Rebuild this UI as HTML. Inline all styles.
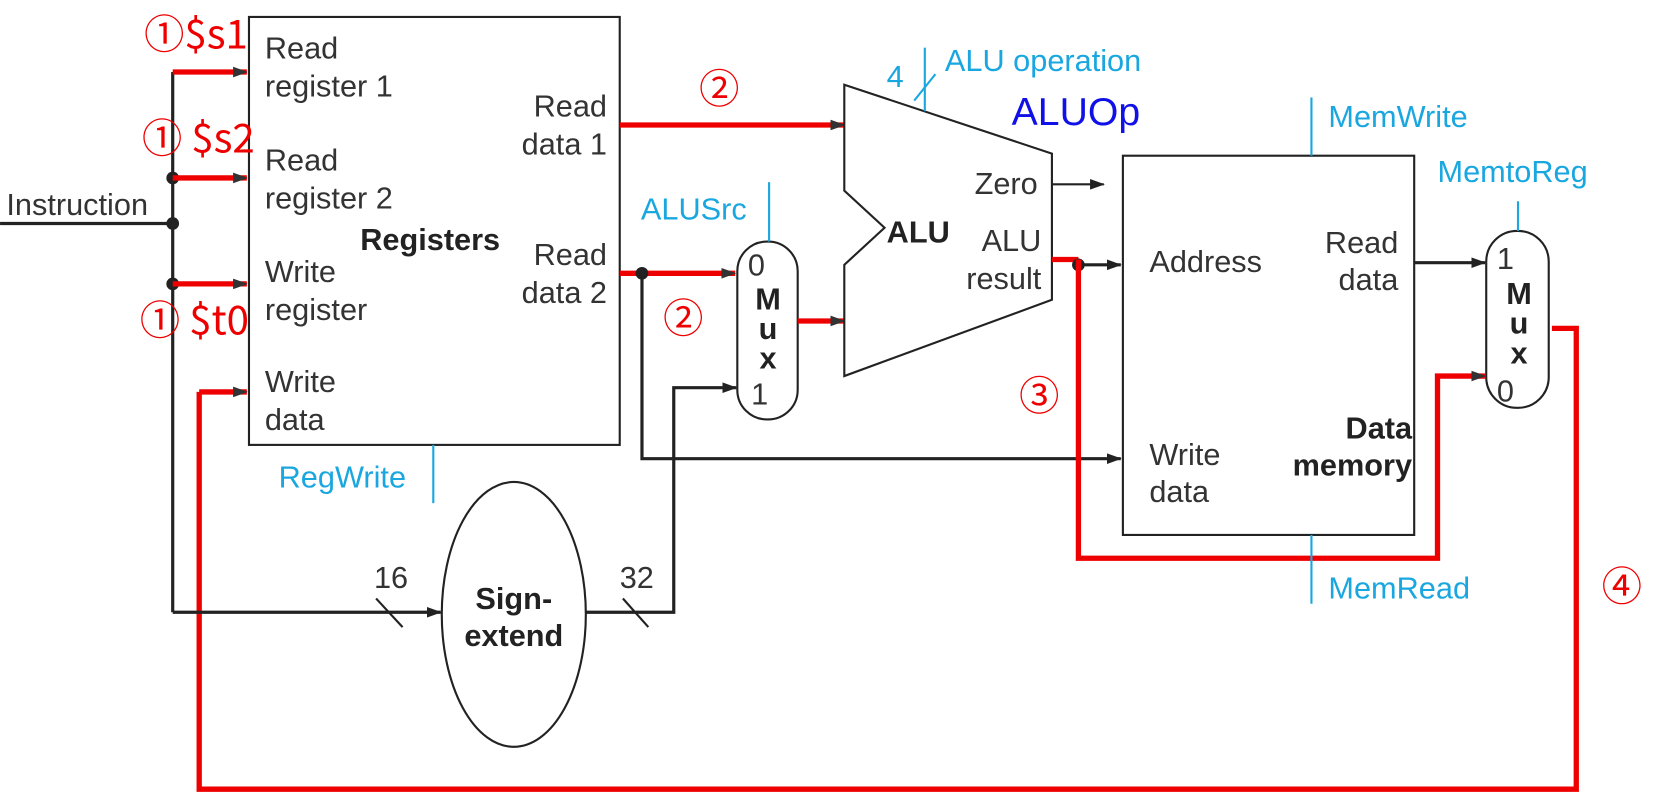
<!DOCTYPE html>
<html><head><meta charset="utf-8"><style>
html,body{margin:0;padding:0;background:#fff;}
svg{display:block;}
text{font-family:"Liberation Sans","Noto Sans CJK SC",sans-serif;}
.t{font-size:29px;fill:#333;}
.b{font-size:29px;font-weight:bold;fill:#222;}
.c{font-size:29px;fill:#1aa7e0;}
.r{font-size:38px;fill:#e00;font-family:"Noto Sans CJK SC","Liberation Sans",sans-serif;}
</style></head><body>
<svg width="1660" height="804" viewBox="0 0 1567 759" xmlns="http://www.w3.org/2000/svg">
<defs>
<marker id="ak" markerWidth="14" markerHeight="10" refX="13" refY="5" orient="auto" markerUnits="userSpaceOnUse"><path d="M0,0 L14,5 L0,10z" fill="#222"/></marker>
<marker id="ar" markerWidth="14" markerHeight="10" refX="13" refY="5" orient="auto" markerUnits="userSpaceOnUse"><path d="M0,0 L14,5 L0,10z" fill="#333"/></marker>
</defs>
<!-- Registers -->
<rect x="235" y="16" width="350" height="404" fill="none" stroke="#222" stroke-width="2"/>
<text class="t" x="250" y="55">Read</text><text class="t" x="250" y="91">register 1</text>
<text class="t" x="250" y="161">Read</text><text class="t" x="250" y="197">register 2</text>
<text class="t" x="250" y="266">Write</text><text class="t" x="250" y="302">register</text>
<text class="t" x="250" y="370">Write</text><text class="t" x="250" y="406">data</text>
<text class="b" x="340" y="236">Registers</text>
<text class="t" x="573" y="110" text-anchor="end">Read</text><text class="t" x="573" y="146" text-anchor="end">data 1</text>
<text class="t" x="573" y="250" text-anchor="end">Read</text><text class="t" x="573" y="286" text-anchor="end">data 2</text>
<text class="c" x="263" y="460">RegWrite</text>
<line x1="409" y1="420" x2="409" y2="475" stroke="#1aa7e0" stroke-width="2"/>
<!-- instruction bus -->
<line x1="0" y1="211" x2="163" y2="211" stroke="#222" stroke-width="3"/>
<text class="t" x="6" y="203">Instruction</text>
<line x1="163" y1="68" x2="163" y2="578" stroke="#222" stroke-width="3"/>
<circle cx="163" cy="168" r="6" fill="#222"/><circle cx="163" cy="211" r="6" fill="#222"/><circle cx="163" cy="268" r="6" fill="#222"/>
<g stroke="#e00" stroke-width="5" marker-end="url(#ar)">
<line x1="163" y1="68" x2="233" y2="68"/><line x1="163" y1="168" x2="233" y2="168"/><line x1="163" y1="268" x2="233" y2="268"/>
<line x1="188" y1="370" x2="233" y2="370"/>
</g>
<polyline points="1465,310 1488,310 1488,745 188,745 188,370" fill="none" stroke="#e00" stroke-width="5"/>
<text class="r" x="136" y="46">①$s1</text>
<text class="r" x="134" y="144">① $s2</text>
<text class="r" x="132" y="316">① $t0</text>
<!-- read data 1 -->
<line x1="585" y1="118" x2="797" y2="118" stroke="#e00" stroke-width="5" marker-end="url(#ar)"/>
<text class="r" x="660" y="97">②</text>
<!-- read data 2 -->
<line x1="585" y1="258" x2="694" y2="258" stroke="#e00" stroke-width="5" marker-end="url(#ar)"/>
<circle cx="606" cy="258" r="6" fill="#222"/>
<polyline points="606,258 606,433 1058,433" fill="none" stroke="#222" stroke-width="3" marker-end="url(#ak)"/>
<text class="r" x="626" y="314">②</text>
<!-- ALUSrc mux -->
<rect x="696" y="228" width="57" height="168" rx="28" fill="#fff" stroke="#222" stroke-width="2"/>
<text class="t" x="706" y="260">0</text>
<text class="b" x="725" y="292" text-anchor="middle">M</text>
<text class="b" x="725" y="320" text-anchor="middle">u</text>
<text class="b" x="725" y="348" text-anchor="middle">x</text>
<text class="t" x="709" y="382">1</text>
<text class="c" x="605" y="207">ALUSrc</text>
<line x1="726" y1="172" x2="726" y2="228" stroke="#1aa7e0" stroke-width="2"/>
<line x1="753" y1="303" x2="797" y2="303" stroke="#e00" stroke-width="5" marker-end="url(#ar)"/>
<!-- sign extend -->
<ellipse cx="485" cy="580" rx="68" ry="125" fill="none" stroke="#222" stroke-width="2"/>
<text class="b" x="485" y="575" text-anchor="middle">Sign-</text>
<text class="b" x="485" y="610" text-anchor="middle">extend</text>
<line x1="163" y1="578" x2="416" y2="578" stroke="#222" stroke-width="3" marker-end="url(#ak)"/>
<line x1="355" y1="565" x2="380" y2="592" stroke="#222" stroke-width="2"/>
<text class="t" x="353" y="555">16</text>
<polyline points="553,578 636,578 636,366 695,366" fill="none" stroke="#222" stroke-width="3" marker-end="url(#ak)"/>
<line x1="588" y1="565" x2="612" y2="592" stroke="#222" stroke-width="2"/>
<text class="t" x="585" y="555">32</text>
<!-- ALU -->
<polygon points="797,80 993,145 993,283 797,355 797,250 835,215 797,180" fill="#fff" stroke="#222" stroke-width="2"/>
<text class="b" x="837" y="229">ALU</text>
<text class="t" x="920" y="183">Zero</text>
<text class="t" x="983" y="237" text-anchor="end">ALU</text>
<text class="t" x="983" y="273" text-anchor="end">result</text>
<line x1="993" y1="174" x2="1042" y2="174" stroke="#222" stroke-width="2" marker-end="url(#ak)"/>
<line x1="873" y1="45" x2="873" y2="105" stroke="#1aa7e0" stroke-width="2"/>
<line x1="863" y1="95" x2="883" y2="70" stroke="#1aa7e0" stroke-width="2"/>
<text class="c" x="837" y="82">4</text>
<text class="c" x="892" y="67">ALU operation</text>
<text x="955" y="118" style="font-size:37px;fill:#1010e8">ALUOp</text>
<!-- ALU result -->
<line x1="993" y1="245" x2="1018" y2="245" stroke="#e00" stroke-width="5"/>
<line x1="1018" y1="250" x2="1058" y2="250" stroke="#222" stroke-width="3" marker-end="url(#ak)"/>
<circle cx="1018" cy="250" r="6" fill="#222"/>
<polyline points="1018,245 1018,527 1357,527 1357,355 1402,355" fill="none" stroke="#e00" stroke-width="5" marker-end="url(#ar)"/>
<text class="r" x="962" y="387">③</text>
<!-- Data memory -->
<rect x="1060" y="147" width="275" height="358" fill="none" stroke="#222" stroke-width="2"/>
<text class="t" x="1085" y="257">Address</text>
<text class="t" x="1085" y="439">Write</text><text class="t" x="1085" y="474">data</text>
<text class="b" x="1333" y="414" text-anchor="end">Data</text>
<text class="b" x="1333" y="449" text-anchor="end">memory</text>
<text class="t" x="1320" y="239" text-anchor="end">Read</text>
<text class="t" x="1320" y="274" text-anchor="end">data</text>
<line x1="1238" y1="92" x2="1238" y2="147" stroke="#1aa7e0" stroke-width="2"/>
<text class="c" x="1254" y="120">MemWrite</text>
<line x1="1238" y1="505" x2="1238" y2="570" stroke="#1aa7e0" stroke-width="2"/>
<text class="c" x="1254" y="565">MemRead</text>
<line x1="1335" y1="248" x2="1402" y2="248" stroke="#222" stroke-width="3" marker-end="url(#ak)"/>
<!-- MemtoReg mux -->
<rect x="1403" y="218" width="59" height="167" rx="29" fill="#fff" stroke="#222" stroke-width="2"/>
<text class="t" x="1413" y="254">1</text>
<text class="b" x="1434" y="287" text-anchor="middle">M</text>
<text class="b" x="1434" y="315" text-anchor="middle">u</text>
<text class="b" x="1434" y="343" text-anchor="middle">x</text>
<text class="t" x="1413" y="379">0</text>
<text class="c" x="1357" y="172">MemtoReg</text>
<line x1="1433" y1="190" x2="1433" y2="218" stroke="#1aa7e0" stroke-width="2"/>
<text class="r" x="1512" y="567">④</text>
</svg>
</body></html>
